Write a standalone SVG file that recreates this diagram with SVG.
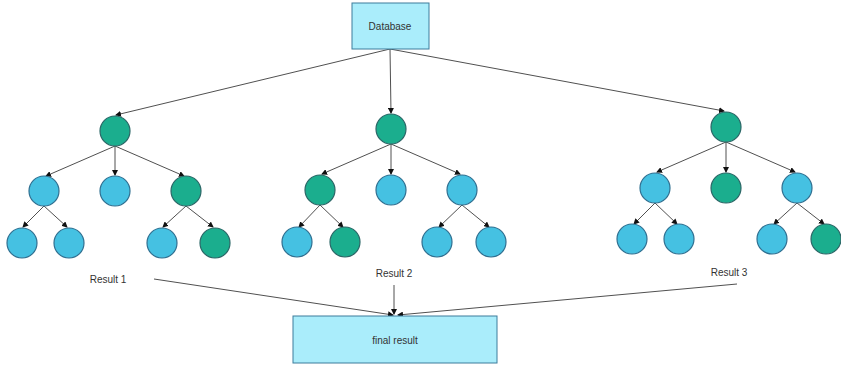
<svg xmlns="http://www.w3.org/2000/svg" width="841" height="365" viewBox="0 0 841 365">
  <defs>
    <marker id="arrow" markerWidth="6" markerHeight="6" refX="5" refY="3" orient="auto" markerUnits="userSpaceOnUse">
      <path d="M0,0 L6,3 L0,6 Z" fill="#111"/>
    </marker>
    <style>
      .box { fill: #aaedfb; stroke: #3d7d9c; stroke-width: 1; }
      .teal { fill: #1bae8e; stroke: #2a6666; stroke-width: 1.2; }
      .blue { fill: #45c1e2; stroke: #2f6f90; stroke-width: 1.2; }
      .edge { stroke: #505050; stroke-width: 1; fill: none; marker-end: url(#arrow); }
      .lbl { font-family: "Liberation Sans", Arial, sans-serif; font-size: 10px; fill: #333; text-anchor: middle; }
    </style>
  </defs>
  <rect width="841" height="365" fill="#ffffff"/>

  <g id="connectors">
    <!-- database to roots -->
    <line class="edge" x1="390" y1="49" x2="116" y2="115"/>
    <line class="edge" x1="390" y1="49" x2="391" y2="113"/>
    <line class="edge" x1="390" y1="49" x2="724" y2="111"/>
    <!-- tree 1 -->
    <line class="edge" x1="115" y1="146" x2="46" y2="176"/>
    <line class="edge" x1="115" y1="146" x2="115" y2="175"/>
    <line class="edge" x1="115" y1="146" x2="184" y2="176"/>
    <line class="edge" x1="44" y1="206" x2="23" y2="227"/>
    <line class="edge" x1="44" y1="206" x2="67" y2="227"/>
    <line class="edge" x1="186" y1="206" x2="163" y2="227"/>
    <line class="edge" x1="186" y1="206" x2="213" y2="227"/>
    <!-- tree 2 -->
    <line class="edge" x1="391" y1="144" x2="322" y2="174"/>
    <line class="edge" x1="391" y1="144" x2="391" y2="174"/>
    <line class="edge" x1="391" y1="144" x2="460" y2="174"/>
    <line class="edge" x1="320" y1="205" x2="299" y2="227"/>
    <line class="edge" x1="320" y1="205" x2="343" y2="227"/>
    <line class="edge" x1="462" y1="205" x2="439" y2="227"/>
    <line class="edge" x1="462" y1="205" x2="489" y2="227"/>
    <!-- tree 3 -->
    <line class="edge" x1="726" y1="142" x2="657" y2="172"/>
    <line class="edge" x1="726" y1="142" x2="726" y2="172"/>
    <line class="edge" x1="726" y1="142" x2="795" y2="172"/>
    <line class="edge" x1="655" y1="203" x2="634" y2="224"/>
    <line class="edge" x1="655" y1="203" x2="677" y2="224"/>
    <line class="edge" x1="797" y1="203" x2="774" y2="224"/>
    <line class="edge" x1="797" y1="203" x2="824" y2="224"/>
    <!-- results to final -->
    <line class="edge" x1="154" y1="279" x2="393" y2="315"/>
    <line class="edge" x1="394" y1="285" x2="394" y2="314"/>
    <line class="edge" x1="737" y1="284" x2="398" y2="315"/>
  </g>

  <g id="database">
    <rect class="box" x="352" y="3" width="77" height="46"/>
    <text class="lbl" x="390" y="30">Database</text>
  </g>

  <g id="tree1">
    <circle class="teal" cx="115" cy="131" r="15"/>
    <circle class="blue" cx="44" cy="191" r="15"/>
    <circle class="blue" cx="115" cy="191" r="15"/>
    <circle class="teal" cx="186" cy="191" r="15"/>
    <circle class="blue" cx="22" cy="243" r="15"/>
    <circle class="blue" cx="69" cy="243" r="15"/>
    <circle class="blue" cx="162" cy="243" r="15"/>
    <circle class="teal" cx="215" cy="243" r="15"/>
  </g>

  <g id="tree2">
    <circle class="teal" cx="391" cy="129" r="15"/>
    <circle class="teal" cx="320" cy="190" r="15"/>
    <circle class="blue" cx="391" cy="190" r="15"/>
    <circle class="blue" cx="462" cy="190" r="15"/>
    <circle class="blue" cx="297" cy="242" r="15"/>
    <circle class="teal" cx="345" cy="242" r="15"/>
    <circle class="blue" cx="437" cy="242" r="15"/>
    <circle class="blue" cx="491" cy="242" r="15"/>
  </g>

  <g id="tree3">
    <circle class="teal" cx="726" cy="127" r="15"/>
    <circle class="blue" cx="655" cy="188" r="15"/>
    <circle class="teal" cx="726" cy="188" r="15"/>
    <circle class="blue" cx="797" cy="188" r="15"/>
    <circle class="blue" cx="632" cy="239" r="15"/>
    <circle class="blue" cx="679" cy="239" r="15"/>
    <circle class="blue" cx="772" cy="239" r="15"/>
    <circle class="teal" cx="826" cy="239" r="15"/>
  </g>

  <g id="result1"><text class="lbl" x="108" y="283">Result 1</text></g>
  <g id="result2"><text class="lbl" x="394" y="277">Result 2</text></g>
  <g id="result3"><text class="lbl" x="729" y="276">Result 3</text></g>

  <g id="final-result">
    <rect class="box" x="293" y="316" width="204" height="47"/>
    <text class="lbl" x="395" y="344">final result</text>
  </g>
</svg>
